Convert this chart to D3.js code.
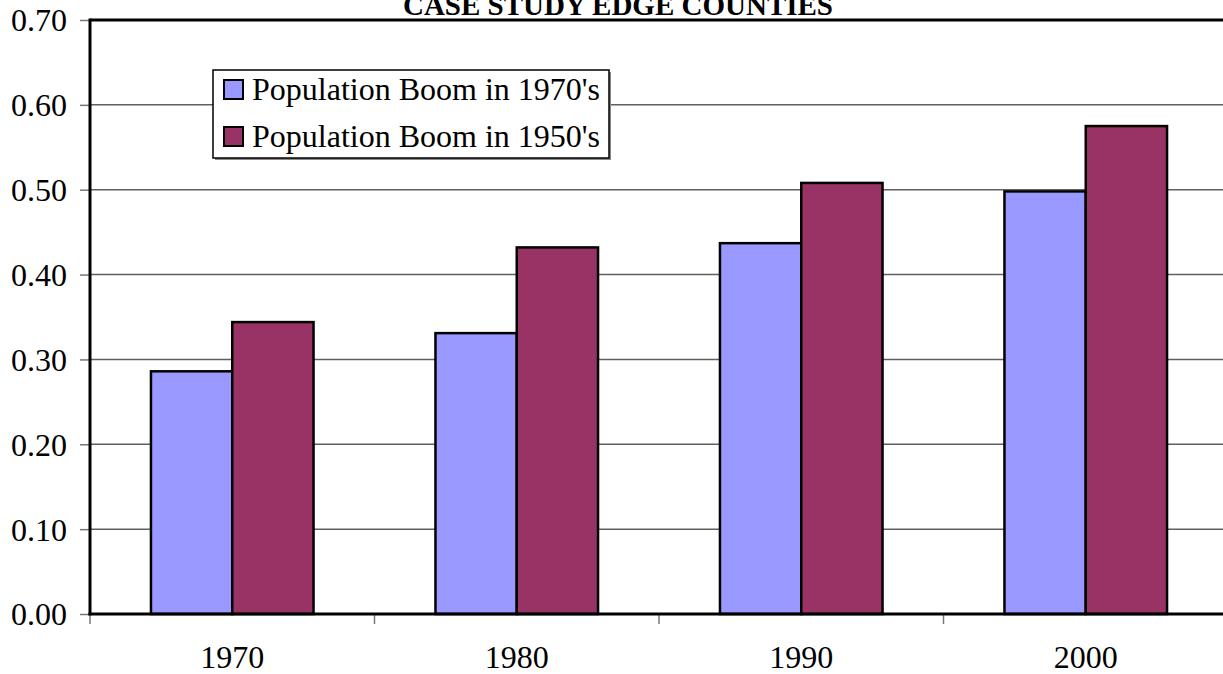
<!DOCTYPE html>
<html>
<head>
<meta charset="utf-8">
<script src="https://cdn.jsdelivr.net/npm/d3@7"></script>
<style>
  body { margin: 0; background: #fff; }
</style>
</head>
<body>
<div id="graf"></div>
<script>
// Datos
const years = ['1970', '1980', '1990', '2000']
const seriesNames = ["Population Boom in 1970's", "Population Boom in 1950's"]
const boom1970s = [0.286, 0.331, 0.437, 0.498]
const boom1950s = [0.344, 0.432, 0.508, 0.575]
const yTicks = [0, 0.1, 0.2, 0.3, 0.4, 0.5, 0.6, 0.7]
const seriesColors = ['#9999ff', '#993366']
const title = 'CASE STUDY EDGE COUNTIES'

const fuente = '"Liberation Serif", "Times New Roman", Times, serif'

const draw = () => {
  // Margenes
  const margins = { top: 20, right: -5, bottom: 60, left: 90 }
  const anchoTotal = 1223
  const altoTotal = 674
  const ancho = anchoTotal - margins.left - margins.right
  const alto = altoTotal - margins.top - margins.bottom

  const svg = d3.select('#graf')
    .append('svg')
    .attr('width', anchoTotal)
    .attr('height', altoTotal)
    .attr('font-family', fuente)

  const g = svg.append('g')
    .attr('transform', `translate(${margins.left}, ${margins.top})`)

  // Escaladores
  const y = d3.scaleLinear()
    .domain([0, 0.7])
    .range([alto, 0])

  const x = d3.scaleBand()
    .domain(years)
    .range([0, ancho])

  // ancho de barra (gap 150%)
  const barW = x.bandwidth() / 3.5
  const xs = d3.scaleBand()
    .domain(seriesNames)
    .range([barW * 0.75, barW * 2.75])

  // Lineas de cuadricula
  g.selectAll('.grid')
    .data(yTicks.filter(d => d > 0 && d < 0.7))
    .join('line')
    .attr('class', 'grid')
    .attr('x1', 0)
    .attr('x2', ancho)
    .attr('y1', d => y(d))
    .attr('y2', d => y(d))
    .attr('stroke', '#606060')
    .attr('stroke-width', 1.5)

  // Borde superior
  g.append('line')
    .attr('x1', 0)
    .attr('x2', ancho)
    .attr('y1', y(0.7))
    .attr('y2', y(0.7))
    .attr('stroke', '#000')
    .attr('stroke-width', 3)

  // Barras
  const rows = years.map((yr, i) => ({ year: yr, values: [boom1970s[i], boom1950s[i]] }))

  g.selectAll('.group')
    .data(rows)
    .join('g')
    .attr('class', 'group')
    .attr('transform', d => `translate(${x(d.year)}, 0)`)
    .selectAll('rect')
    .data(d => d.values.map((v, j) => ({ name: seriesNames[j], value: v, color: seriesColors[j] })))
    .join('rect')
    .attr('x', d => xs(d.name))
    .attr('width', xs.bandwidth())
    .attr('y', d => y(d.value))
    .attr('height', d => alto - y(d.value))
    .attr('fill', d => d.color)
    .attr('stroke', '#000')
    .attr('stroke-width', 2.5)

  // Eje Y
  const yAxis = g.append('g')
    .call(d3.axisLeft(y).tickValues(yTicks).tickFormat(d3.format('.2f')).tickSize(10).tickPadding(13))
    .attr('font-family', fuente)
    .attr('font-size', 32)

  yAxis.select('.domain').remove()
  yAxis.selectAll('.tick line').attr('stroke', '#777').attr('stroke-width', 1.5)
  yAxis.selectAll('.tick text')
    .attr('fill', '#000')
    .attr('dy', '0.34em')

  g.append('line')
    .attr('x1', 0)
    .attr('x2', 0)
    .attr('y1', y(0.7) - 1.5)
    .attr('y2', alto + 1.5)
    .attr('stroke', '#000')
    .attr('stroke-width', 3)

  // Eje X
  const xAxis = g.append('g')
    .attr('transform', `translate(0, ${alto})`)
    .call(d3.axisBottom(x).tickSize(0).tickPadding(31))
    .attr('font-family', fuente)
    .attr('font-size', 32)

  xAxis.select('.domain').remove()
  xAxis.selectAll('.tick text').attr('fill', '#000')

  // Marcas entre categorias
  g.selectAll('.xtick')
    .data(years)
    .join('line')
    .attr('class', 'xtick')
    .attr('x1', d => x(d))
    .attr('x2', d => x(d))
    .attr('y1', alto)
    .attr('y2', alto + 10)
    .attr('stroke', '#777')
    .attr('stroke-width', 1.5)

  g.append('line')
    .attr('x1', -1.5)
    .attr('x2', ancho)
    .attr('y1', alto)
    .attr('y2', alto)
    .attr('stroke', '#000')
    .attr('stroke-width', 3)

  // Titulo
  svg.append('text')
    .attr('x', 618)
    .attr('y', 15)
    .attr('text-anchor', 'middle')
    .attr('font-size', 29)
    .attr('font-weight', 'bold')
    .text(title)

  // Leyenda
  const legend = svg.append('g')
    .attr('transform', 'translate(213, 70)')

  legend.append('rect')
    .attr('x', 2)
    .attr('y', 2)
    .attr('width', 396)
    .attr('height', 88)
    .attr('fill', '#888')

  legend.append('rect')
    .attr('width', 396)
    .attr('height', 88)
    .attr('fill', '#fff')
    .attr('stroke', '#000')
    .attr('stroke-width', 1.5)

  const items = legend.selectAll('.item')
    .data(seriesNames)
    .join('g')
    .attr('class', 'item')
    .attr('transform', (d, i) => `translate(0, ${i * 47})`)

  items.append('rect')
    .attr('x', 11)
    .attr('y', 10)
    .attr('width', 19)
    .attr('height', 19)
    .attr('fill', (d, i) => seriesColors[i])
    .attr('stroke', '#000')
    .attr('stroke-width', 2)

  items.append('text')
    .attr('x', 39)
    .attr('y', 30)
    .attr('font-size', 32)
    .text(d => d)
}

draw()
</script>
</body>
</html>
